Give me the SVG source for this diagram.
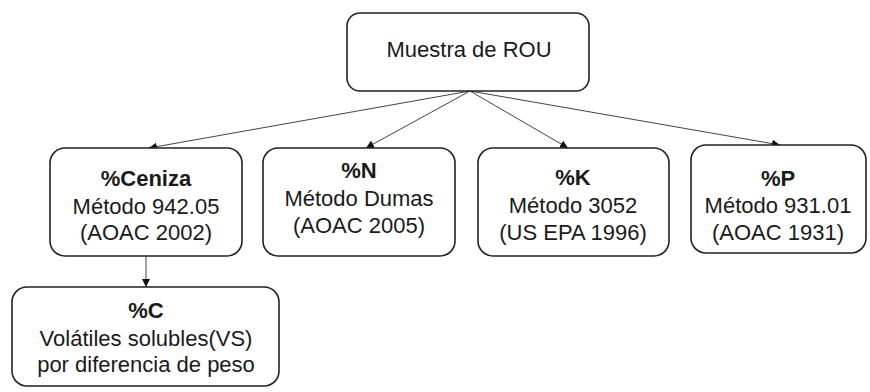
<svg xmlns="http://www.w3.org/2000/svg" width="870" height="392" viewBox="0 0 870 392">
<style>
.box{fill:#fff;stroke:#222;stroke-width:1.6}
.t{font-family:"Liberation Sans",Arial,sans-serif;font-size:22px;fill:#1a1a1a;text-anchor:middle}
.b{font-weight:bold}
.c{stroke:#444;stroke-width:1;fill:none;marker-end:url(#ah)}
</style>
<defs>
<marker id="ah" viewBox="0 0 10 10" refX="10" refY="5" markerWidth="8" markerHeight="8" markerUnits="userSpaceOnUse" orient="auto">
<path d="M0,0 L10,5 L0,10 z" fill="#111"/>
</marker>
</defs>
<rect width="870" height="392" fill="#fff"/>
<g id="connectors">
<line class="c" x1="470" y1="91" x2="149" y2="148"/>
<line class="c" x1="470" y1="91" x2="366" y2="148"/>
<line class="c" x1="470" y1="91" x2="568" y2="148"/>
<line class="c" x1="470" y1="91" x2="780" y2="145"/>
<line class="c" x1="146" y1="256" x2="146" y2="287"/>
</g>
<g id="root">
<rect class="box" x="347" y="13" width="242" height="78" rx="13"/>
<text class="t" x="469" y="57">Muestra de ROU</text>
</g>
<g id="ceniza">
<rect class="box" x="50" y="148" width="192" height="108" rx="15"/>
<text class="t b" x="146" y="186">%Ceniza</text>
<text class="t" x="146" y="214">Método 942.05</text>
<text class="t" x="146" y="240">(AOAC 2002)</text>
</g>
<g id="n">
<rect class="box" x="263" y="148" width="192" height="108" rx="15"/>
<text class="t b" x="359" y="178">%N</text>
<text class="t" x="359" y="206">Método Dumas</text>
<text class="t" x="359" y="233">(AOAC 2005)</text>
</g>
<g id="k">
<rect class="box" x="478" y="148" width="191" height="108" rx="15"/>
<text class="t b" x="573" y="185">%K</text>
<text class="t" x="573" y="213">Método 3052</text>
<text class="t" x="573" y="240">(US EPA 1996)</text>
</g>
<g id="p">
<rect class="box" x="691" y="145" width="175" height="108" rx="15"/>
<text class="t b" x="778" y="186">%P</text>
<text class="t" x="778" y="213">Método 931.01</text>
<text class="t" x="778" y="240">(AOAC 1931)</text>
</g>
<g id="c">
<rect class="box" x="12" y="287" width="267" height="99" rx="15"/>
<text class="t b" x="146" y="318">%C</text>
<text class="t" x="146" y="346">Volátiles solubles(VS)</text>
<text class="t" x="146" y="372">por diferencia de peso</text>
</g>
</svg>
